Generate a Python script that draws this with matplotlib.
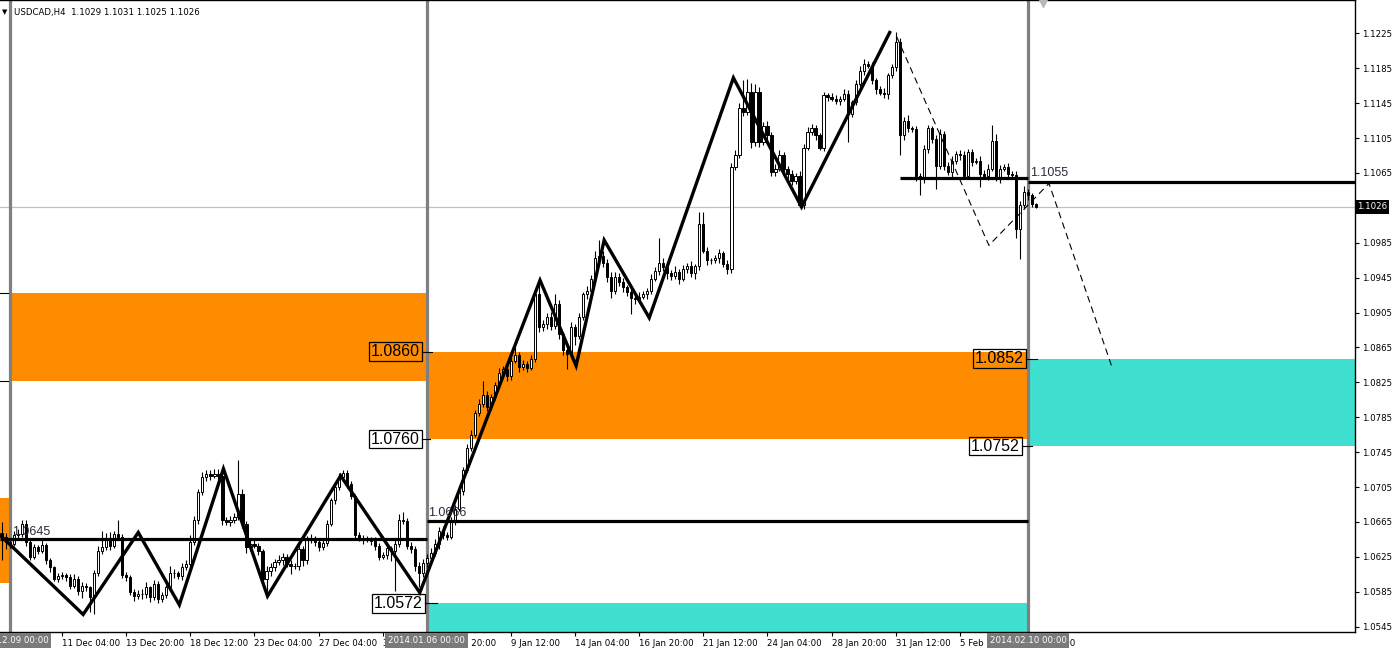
import numpy as np
import matplotlib
matplotlib.use("Agg")
import matplotlib.pyplot as plt
import matplotlib.transforms as mtransforms

plt.rcParams["font.family"] = ["DejaVu Sans"]

# ---------------- data (USDCAD H4) ----------------
symbol_line = "USDCAD,H4  1.1029 1.1031 1.1025 1.1026"
first_open = 1.0652
first_bar = -2

# closes, bars -2 .. 103 (Dec 2013)
closes_dec = [1.0648, 1.0642, 1.0640, 1.0650, 1.0651, 1.0663, 1.0642, 1.0625, 1.0636, 1.0632,
              1.0639, 1.0621, 1.0613, 1.0600, 1.0603, 1.0604, 1.0602, 1.0592, 1.0600, 1.0586,
              1.0592, 1.0590, 1.0579, 1.0606, 1.0632, 1.0636, 1.0647, 1.0638, 1.0651, 1.0648,
              1.0604, 1.0602, 1.0585, 1.0580, 1.0583, 1.0582, 1.0590, 1.0579, 1.0594, 1.0577,
              1.0581, 1.0590, 1.0607, 1.0606, 1.0603, 1.0613, 1.0617, 1.0642, 1.0667, 1.0699,
              1.0716, 1.0720, 1.0718, 1.0720, 1.0718, 1.0667, 1.0665, 1.0667, 1.0671, 1.0697,
              1.0663, 1.0636, 1.0640, 1.0638, 1.0632, 1.0600, 1.0609, 1.0613, 1.0619, 1.0621,
              1.0625, 1.0617, 1.0615, 1.0614, 1.0634, 1.0621, 1.0644, 1.0645, 1.0642, 1.0636,
              1.0641, 1.0663, 1.0690, 1.0705, 1.0716, 1.0721, 1.0709, 1.0695, 1.0650, 1.0647,
              1.0645, 1.0645, 1.0643, 1.0638, 1.0625, 1.0627, 1.0635, 1.0632, 1.0640, 1.0667,
              1.0666, 1.0638, 1.0634, 1.0615, 1.0606, 1.0618]
# upper / lower shadows in pips
up_dec = [13, 4, 3, 5, 6, 4, 4, 3, 4, 3, 5, 2, 3, 2, 3, 4, 2, 3, 5, 3,
          4, 3, 2, 4, 6, 19, 5, 6, 4, 16, 3, 4, 2, 3, 4, 5, 6, 2, 5, 3,
          4, 3, 8, 4, 3, 5, 4, 8, 5, 4, 6, 5, 4, 6, 6, 3, 4, 5, 4, 39,
          6, 3, 5, 4, 3, 2, 6, 5, 4, 6, 5, 3, 4, 3, 6, 4, 5, 6, 4, 3,
          5, 4, 3, 4, 5, 3, 4, 3, 2, 4, 3, 4, 3, 5, 3, 4, 5, 3, 4, 7,
          9, 3, 4, 3, 4, 5]
dn_dec = [27, 8, 5, 3, 4, 3, 5, 4, 3, 4, 3, 4, 5, 3, 4, 3, 5, 4, 3, 5,
          8, 4, 17, 19, 3, 4, 3, 5, 3, 4, 3, 5, 4, 6, 3, 5, 4, 6, 3, 5,
          4, 3, 4, 5, 3, 4, 3, 4, 3, 4, 3, 4, 5, 3, 4, 5, 4, 5, 3, 4,
          5, 6, 4, 3, 5, 4, 20, 6, 4, 3, 5, 4, 10, 3, 4, 6, 4, 3, 5, 4,
          3, 4, 3, 4, 3, 4, 5, 4, 3, 4, 5, 3, 4, 5, 4, 3, 5, 12, 46, 4,
          3, 4, 5, 6, 16, 4]

# closes, bars 104 .. 179 (Jan 2014)
closes_jan = [1.0624, 1.0630, 1.0640, 1.0655, 1.0650, 1.0648, 1.0665, 1.0680, 1.0700, 1.0725,
              1.0750, 1.0765, 1.0790, 1.0800, 1.0810, 1.0797, 1.0808, 1.0822, 1.0836, 1.0840,
              1.0832, 1.0850, 1.0856, 1.0843, 1.0846, 1.0842, 1.0852, 1.0926, 1.0888, 1.0892,
              1.0900, 1.0890, 1.0915, 1.0880, 1.0862, 1.0858, 1.0888, 1.0878, 1.0900, 1.0926,
              1.0930, 1.0944, 1.0968, 1.0970, 1.0962, 1.0946, 1.0930, 1.0946, 1.0940, 1.0934,
              1.0928, 1.0922, 1.0920, 1.0923, 1.0926, 1.0930, 1.0944, 1.0953, 1.0962, 1.0957,
              1.0950, 1.0947, 1.0952, 1.0944, 1.0955, 1.0958, 1.0950, 1.0958, 1.1007, 1.0976,
              1.0965, 1.0965, 1.0967, 1.0973, 1.0961, 1.0955]
up_jan = [4, 5, 6, 4, 5, 3, 6, 4, 5, 3, 4, 5, 3, 6, 17, 5, 4, 3, 5, 4,
          6, 3, 9, 4, 5, 3, 4, 6, 16, 5, 4, 6, 11, 4, 3, 5, 6, 4, 5, 3,
          6, 4, 8, 18, 6, 4, 5, 6, 4, 5, 3, 4, 3, 5, 4, 3, 5, 4, 28, 6,
          5, 4, 6, 3, 5, 4, 6, 3, 13, 13, 4, 3, 4, 5, 3, 4]
dn_jan = [5, 8, 4, 6, 5, 4, 3, 4, 3, 4, 3, 4, 3, 4, 3, 5, 4, 3, 4, 3,
          5, 4, 3, 6, 4, 5, 3, 4, 5, 4, 6, 5, 4, 5, 6, 18, 4, 10, 3, 4,
          5, 3, 4, 3, 5, 6, 8, 4, 5, 6, 4, 19, 5, 4, 3, 5, 4, 3, 5, 4,
          6, 5, 4, 6, 3, 5, 4, 6, 4, 3, 5, 4, 3, 5, 4, 6]

# closes, bars 180 .. 256 (late Jan / Feb 2014)
closes_feb = [1.1072, 1.1085, 1.1140, 1.1135, 1.1158, 1.1100, 1.1158, 1.1100, 1.1119, 1.1108,
              1.1066, 1.1070, 1.1085, 1.1070, 1.1064, 1.1056, 1.1062, 1.1028, 1.1094, 1.1112,
              1.1116, 1.1108, 1.1094, 1.1154, 1.1152, 1.1150, 1.1148, 1.1150, 1.1156, 1.1133,
              1.1146, 1.1167, 1.1182, 1.1190, 1.1188, 1.1171, 1.1161, 1.1157, 1.1155, 1.1177,
              1.1186, 1.1215, 1.1108, 1.1125, 1.1116, 1.1115, 1.1062, 1.1060, 1.1092, 1.1116,
              1.1104, 1.1073, 1.1110, 1.1073, 1.1066, 1.1079, 1.1087, 1.1085, 1.1062, 1.1089,
              1.1078, 1.1079, 1.1064, 1.1062, 1.1070, 1.1102, 1.1060, 1.1070, 1.1072, 1.1064,
              1.1063, 1.1001, 1.1028, 1.1043, 1.1040, 1.1029, 1.1026]
up_feb = [4, 6, 5, 31, 15, 10, 9, 5, 4, 6, 4, 5, 6, 4, 3, 4, 3, 5, 4, 6,
          5, 4, 3, 4, 3, 5, 4, 3, 5, 4, 3, 4, 5, 6, 3, 4, 3, 4, 5, 3,
          4, 11, 5, 4, 6, 3, 4, 3, 5, 4, 3, 4, 5, 3, 4, 5, 3, 4, 5, 3,
          4, 3, 5, 4, 5, 18, 8, 4, 3, 4, 3, 4, 5, 7, 4, 2, 2]
dn_feb = [5, 4, 3, 5, 4, 6, 4, 5, 3, 6, 4, 5, 3, 4, 6, 5, 4, 2, 4, 3,
          4, 5, 3, 4, 5, 3, 4, 5, 3, 33, 4, 3, 4, 5, 3, 4, 5, 3, 4, 5,
          3, 4, 23, 5, 4, 3, 6, 20, 6, 4, 5, 26, 4, 5, 3, 6, 4, 5, 3, 4,
          5, 3, 15, 4, 5, 3, 4, 6, 3, 4, 5, 11, 35, 4, 6, 3, 1]

# zigzag pivots (bar, price)
zz_bars = [-2.5, 18.25, 32, 42.25, 53.25, 64.25, 82.5, 102.25, 132.25, 141.25, 148.25, 159.5, 180.5, 197.5, 219.5]
zz_prices = [1.0650, 1.0559, 1.0653, 1.0570, 1.0726, 1.0580, 1.0718, 1.0584, 1.0942, 1.0844, 1.0988, 1.0899, 1.1174, 1.1026, 1.1226]

# dashed projection (bar, price)
proj_bars = [221.25, 244.25, 259.25, 275]
proj_prices = [1.1221, 1.0982, 1.1053, 1.0842]

current_price = 1.1026
separator_bars = [0, 104, 254]
separator_labels = ["2013.12.09 00:00", "2014.01.06 00:00", "2014.02.10 00:00"]

tick_bars = [13, 29, 45, 61, 77, 93, 109, 125, 141, 157, 173, 189, 205, 221, 237, 253]
tick_labels = ["11 Dec 04:00", "13 Dec 20:00", "18 Dec 12:00", "23 Dec 04:00", "27 Dec 04:00",
               "31 Dec 20:00", "6 Jan 20:00", "9 Jan 12:00", "14 Jan 04:00", "16 Jan 20:00",
               "21 Jan 12:00", "24 Jan 04:00", "28 Jan 20:00", "31 Jan 12:00", "5 Feb 04:00",
               "7 Feb 20:00"]
# the 1.1025 grid label is hidden under the current-price tag in the terminal
price_ticks = [1.0545, 1.0585, 1.0625, 1.0665, 1.0705, 1.0745, 1.0785, 1.0825, 1.0865,
               1.0905, 1.0945, 1.0985, 1.1065, 1.1105, 1.1145, 1.1185, 1.1225]
price_tick_labels = ["1.0545", "1.0585", "1.0625", "1.0665", "1.0705", "1.0745", "1.0785", "1.0825", "1.0865",
                     "1.0905", "1.0945", "1.0985", "1.1065", "1.1105", "1.1145", "1.1185", "1.1225"]

# zones: (bar_from, bar_to, low, high, colour)
zone_bars = [(-2.5, 0), (0, 104), (104, 254), (104, 254), (254, 336)]
zone_prices = [(1.0595, 1.0693), (1.0827, 1.0927), (1.0760, 1.0860), (1.0500, 1.0572), (1.0752, 1.0852)]
zone_colors = ["#FF8C00", "#FF8C00", "#FF8C00", "#40E0D0", "#40E0D0"]

# horizontal levels: (bar_from, bar_to, price)
level_bars = [(-2.5, 104), (104, 254), (222.1, 254), (254, 336)]
level_prices = [1.0645, 1.0666, 1.1059, 1.1055]
level_text = [(0.5, 1.0647, "1.0645"), (104.3, 1.0668, "1.0666"), (254.6, 1.1058, "1.1055")]

# boxed price labels: (right edge bar, price, text, tick from, tick to)
box_labels = [(102.3, 1.0860, "1.0860", 102.8, 105.3),
              (102.3, 1.0760, "1.0760", 102.8, 104.8),
              (103.0, 1.0572, "1.0572", 103.5, 106.5),
              (253.0, 1.0852, "1.0852", 253.5, 256.2),
              (252.0, 1.0752, "1.0752", 252.5, 255.0)]
# ---------------------------------------------------------------------------

closes = np.array(closes_dec + closes_jan + closes_feb)
ups = np.array(up_dec + up_jan + up_feb) * 0.0001
dns = np.array(dn_dec + dn_jan + dn_feb) * 0.0001
opens = np.concatenate([[first_open], closes[:-1]])
bars = np.arange(first_bar, first_bar + len(closes))
tops = np.maximum(opens, closes)
bots = np.minimum(opens, closes)
highs = tops + ups
lows = bots - dns

fig = plt.figure(figsize=(13.96, 6.49), dpi=100)
ax = fig.add_axes([0, 17 / 649, 1355 / 1396, 632 / 649])
ax.set_xlim(-2.5, 335.6)
ax.set_ylim(1.05389, 1.12632)

for (b0, b1), (p0, p1), col in zip(zone_bars, zone_prices, zone_colors):
    ax.fill_between([b0, b1], p0, p1, color=col, lw=0, zorder=1)

ax.axhline(current_price, color="#c0c0c0", lw=0.9, zorder=1.5)
for b in separator_bars:
    ax.axvline(b, color="#808080", lw=2.3, zorder=2)

# candles
ax.vlines(bars, lows, highs, color="black", lw=0.8, zorder=3)
heights = np.maximum(tops - bots, 0.00002)
bull = closes >= opens
ax.bar(bars[bull], heights[bull], bottom=bots[bull], width=0.55,
       facecolor="white", edgecolor="black", lw=0.7, zorder=3.2)
ax.bar(bars[~bull], heights[~bull], bottom=bots[~bull], width=0.55,
       facecolor="black", edgecolor="black", lw=0.7, zorder=3.2)

for (b0, b1), p in zip(level_bars, level_prices):
    ax.plot([b0, b1], [p, p], color="black", lw=2.3, zorder=4, solid_capstyle="butt")
for b, p, t in level_text:
    ax.text(b, p, t, fontsize=9, family="Liberation Sans", color="#2a2a3a",
            ha="left", va="bottom", zorder=6)

ax.plot(zz_bars, zz_prices, color="black", lw=2.4, zorder=5, solid_joinstyle="miter")
ax.plot(proj_bars, proj_prices, color="black", lw=0.8, ls=(0, (6, 4)), zorder=5)

for b, p, t, t0, t1 in box_labels:
    ax.text(b, p, t, fontsize=11.5, family="Liberation Sans", ha="right", va="center",
            zorder=6, bbox=dict(boxstyle="square,pad=0.12", fc="none", ec="black", lw=0.9))
    ax.plot([t0, t1], [p, p], color="black", lw=0.8, zorder=6)
for p in [1.0927, 1.0827]:
    ax.plot([-2.5, -0.6], [p, p], color="black", lw=0.8, zorder=6)

# axes / ticks
ax.spines["left"].set_visible(False)
for s in ["top", "right", "bottom"]:
    ax.spines[s].set_color("black")
    ax.spines[s].set_linewidth(1.0)

ax.yaxis.tick_right()
ax.set_yticks(price_ticks)
ax.set_yticklabels(price_tick_labels)
ax.tick_params(axis="y", direction="out", length=3, width=0.8, labelsize=6.2, pad=2)
ax.set_xticks(tick_bars)
ax.set_xticklabels(tick_labels)
ax.tick_params(axis="x", direction="out", length=3, width=0.8, labelsize=6.2, pad=2)
for lbl in ax.get_xticklabels():
    lbl.set_horizontalalignment("left")

trans_x = mtransforms.blended_transform_factory(ax.transData, ax.transAxes)
for b, t in zip(separator_bars, separator_labels):
    ax.text(b, -0.0135, t, transform=trans_x, fontsize=6.2, color="white", ha="center", va="center",
            zorder=10, clip_on=False,
            bbox=dict(boxstyle="square,pad=0.35", fc="#7a7a7a", ec="none"))

trans_y = mtransforms.blended_transform_factory(ax.transAxes, ax.transData)
ax.text(1.0015, current_price, "1.1026", transform=trans_y, fontsize=6.2, color="white",
        ha="left", va="center", zorder=10, clip_on=False,
        bbox=dict(boxstyle="square,pad=0.25", fc="black", ec="none"))

ax.plot([257.7], [1.1260], marker="v", color="#b8b8b8", ms=6, zorder=7, clip_on=False)

fig.text(2 / 1396, 1 - 12 / 649, "\u25bc", fontsize=5, ha="left", va="center")
fig.text(14 / 1396, 1 - 12 / 649, symbol_line, fontsize=6.2, ha="left", va="center")

fig.savefig("out.png", dpi=100)
